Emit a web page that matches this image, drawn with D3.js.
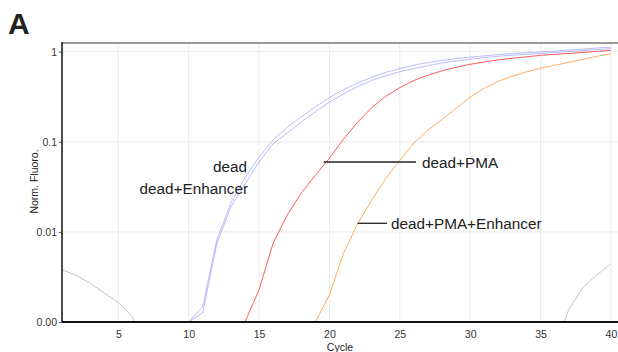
<!DOCTYPE html>
<html>
<head>
<meta charset="utf-8">
<script src="https://cdn.jsdelivr.net/npm/d3@7"></script>
<style>
  body { margin: 0; background: #fff; }
  svg { display: block; font-family: "Liberation Sans", Arial, sans-serif; }
</style>
</head>
<body>
<svg id="chart" width="618" height="352"></svg>
<script>
// ---- data ----
const xTicks = [5, 10, 15, 20, 25, 30, 35, 40];
const yTicks = [0.001, 0.01, 0.1, 1];
const yTickLabels = ['0.00', '0.01', '0.1', '1'];

// first cycle of each series, then one value per cycle
const deadStart = 10;
const dead = [0.001, 0.00149, 0.0082, 0.021, 0.040, 0.068, 0.105, 0.145, 0.19, 0.245,
  0.31, 0.38, 0.45, 0.52, 0.59, 0.65, 0.71, 0.76, 0.80, 0.84,
  0.87, 0.90, 0.93, 0.955, 0.975, 0.995, 1.02, 1.045, 1.07, 1.10, 1.125];

const deadEnhStart = 10;
const deadEnh = [0.001, 0.00127, 0.0074, 0.019, 0.034, 0.060, 0.095, 0.125, 0.166, 0.215,
  0.277, 0.34, 0.41, 0.48, 0.54, 0.60, 0.65, 0.70, 0.75, 0.79,
  0.825, 0.86, 0.89, 0.915, 0.935, 0.955, 0.98, 1.005, 1.03, 1.055, 1.08];

const pmaStart = 14;
const pma = [0.001, 0.00228, 0.0075, 0.0154, 0.027, 0.0425, 0.066, 0.107, 0.165, 0.239,
  0.32, 0.40, 0.48, 0.548, 0.614, 0.672, 0.725, 0.77, 0.813, 0.845,
  0.878, 0.912, 0.935, 0.958, 0.983, 1.007, 1.036];

const pmaEnhStart = 19;
const pmaEnh = [0.001, 0.002, 0.0058, 0.0123, 0.0226, 0.039, 0.0625, 0.097, 0.135, 0.178,
  0.236, 0.313, 0.393, 0.47, 0.534, 0.599, 0.655, 0.707, 0.763, 0.824,
  0.889, 0.948];

const bgLeftStart = 1;
const bgLeft = [0.0038, 0.0033, 0.0027, 0.0021, 0.00165, 0.00115, 0.0004];

const bgRightStart = 36;
const bgRight = [0.0005, 0.00137, 0.0024, 0.00334, 0.0044];

// ---- layout ----
const svg = d3.select('#chart');
const margin = {left: 62, top: 43, right: 0, bottom: 30};
const width = 618, height = 352;
const plotBottom = height - margin.bottom; // 322

const x = d3.scaleLinear().domain([1, 40.5]).range([margin.left, width - margin.right]);
const y = d3.scaleLog().domain([0.001, 1.25]).range([plotBottom, margin.top]);

svg.append('defs').append('clipPath').attr('id', 'plotClip')
  .append('rect')
  .attr('x', margin.left).attr('y', margin.top)
  .attr('width', width - margin.left).attr('height', plotBottom - margin.top);

// grid
const grid = svg.append('g');
grid.selectAll('line.vx').data(xTicks).enter().append('line')
  .attr('x1', d => x(d)).attr('x2', d => x(d))
  .attr('y1', margin.top).attr('y2', plotBottom)
  .attr('stroke', '#ebebeb').attr('stroke-width', 1);
grid.selectAll('line.hy').data(yTicks.filter(d => d > 0.001)).enter().append('line')
  .attr('x1', margin.left).attr('x2', width)
  .attr('y1', d => y(d)).attr('y2', d => y(d))
  .attr('stroke', '#ebebeb').attr('stroke-width', 1);

// top border
svg.append('line')
  .attr('x1', margin.left).attr('x2', width)
  .attr('y1', margin.top).attr('y2', margin.top)
  .attr('stroke', '#9a9a9a').attr('stroke-width', 2);

// curves
const toPoints = (start, vals) => vals.map((v, i) => [start + i, v]);
const line = d3.line().x(d => x(d[0])).y(d => y(Math.max(d[1], 0.0002)));

const series = [
  {pts: toPoints(bgLeftStart, bgLeft), color: '#c4c4c4', op: 1},
  {pts: toPoints(bgRightStart, bgRight), color: '#c4c4c4', op: 1},
  {pts: toPoints(deadStart, dead), color: '#7878ff', op: 0.5},
  {pts: toPoints(deadEnhStart, deadEnh), color: '#7878ff', op: 0.5},
  {pts: toPoints(pmaStart, pma), color: '#ff4a4a', op: 0.9},
  {pts: toPoints(pmaEnhStart, pmaEnh), color: '#ff9f45', op: 0.85},
];

const curves = svg.append('g').attr('clip-path', 'url(#plotClip)');
curves.selectAll('path').data(series).enter().append('path')
  .attr('d', d => line(d.pts))
  .attr('fill', 'none')
  .attr('stroke', d => d.color)
  .attr('stroke-opacity', d => d.op)
  .attr('stroke-width', 1);

// axes
const xAxis = d3.axisBottom(x).tickValues(xTicks).tickSize(0).tickPadding(9);
const gx = svg.append('g').attr('transform', `translate(0,${plotBottom})`).call(xAxis);
gx.select('.domain').remove();
gx.selectAll('text').attr('fill', '#333').attr('font-size', 10.5).attr('font-family', '"Liberation Sans", Arial, sans-serif');

const yAxis = d3.axisLeft(y).tickValues(yTicks).tickFormat((d, i) => yTickLabels[i]).tickSize(3).tickPadding(2);
const gy = svg.append('g').attr('transform', `translate(${margin.left},0)`).call(yAxis);
gy.select('.domain').remove();
gy.selectAll('line').attr('stroke', '#555');
gy.selectAll('text').attr('fill', '#333').attr('font-size', 10.5).attr('font-family', '"Liberation Sans", Arial, sans-serif');

svg.append('line')
  .attr('x1', margin.left).attr('x2', margin.left)
  .attr('y1', margin.top - 1).attr('y2', plotBottom)
  .attr('stroke', '#111').attr('stroke-width', 1.5);
svg.append('line')
  .attr('x1', margin.left).attr('x2', width)
  .attr('y1', plotBottom).attr('y2', plotBottom)
  .attr('stroke', '#111').attr('stroke-width', 2);

// axis titles
svg.append('text')
  .attr('x', 340).attr('y', 351)
  .attr('text-anchor', 'middle').attr('font-size', 10.5).attr('fill', '#222')
  .text('Cycle');
svg.append('text')
  .attr('transform', 'translate(38,181.5) rotate(-90)')
  .attr('text-anchor', 'middle').attr('font-size', 10.5).attr('fill', '#222')
  .text('Norm. Fluoro.');

// panel letter
svg.append('text')
  .attr('x', 8).attr('y', 34)
  .attr('font-size', 30).attr('font-weight', 'bold').attr('fill', '#222')
  .text('A');

// annotations
const annoFont = 15.3;
svg.append('text').attr('x', 247).attr('y', 171.5)
  .attr('text-anchor', 'end').attr('font-size', annoFont).attr('fill', '#222')
  .text('dead');
svg.append('text').attr('x', 248).attr('y', 194)
  .attr('text-anchor', 'end').attr('font-size', annoFont).attr('fill', '#222')
  .text('dead+Enhancer');

// leader lines start on the curve at a given cycle
const pmaLeadCycle = 19.6, pmaEnhLeadCycle = 22;
svg.append('line')
  .attr('x1', x(pmaLeadCycle)).attr('x2', 416)
  .attr('y1', 162).attr('y2', 162)
  .attr('stroke', '#222').attr('stroke-width', 1.3);
svg.append('text').attr('x', 422).attr('y', 168)
  .attr('font-size', annoFont).attr('fill', '#222')
  .text('dead+PMA');

svg.append('line')
  .attr('x1', x(pmaEnhLeadCycle)).attr('x2', 387)
  .attr('y1', 223.3).attr('y2', 223.3)
  .attr('stroke', '#222').attr('stroke-width', 1.3);
svg.append('text').attr('x', 391).attr('y', 228.5)
  .attr('font-size', annoFont).attr('fill', '#222')
  .text('dead+PMA+Enhancer');
</script>
</body>
</html>
